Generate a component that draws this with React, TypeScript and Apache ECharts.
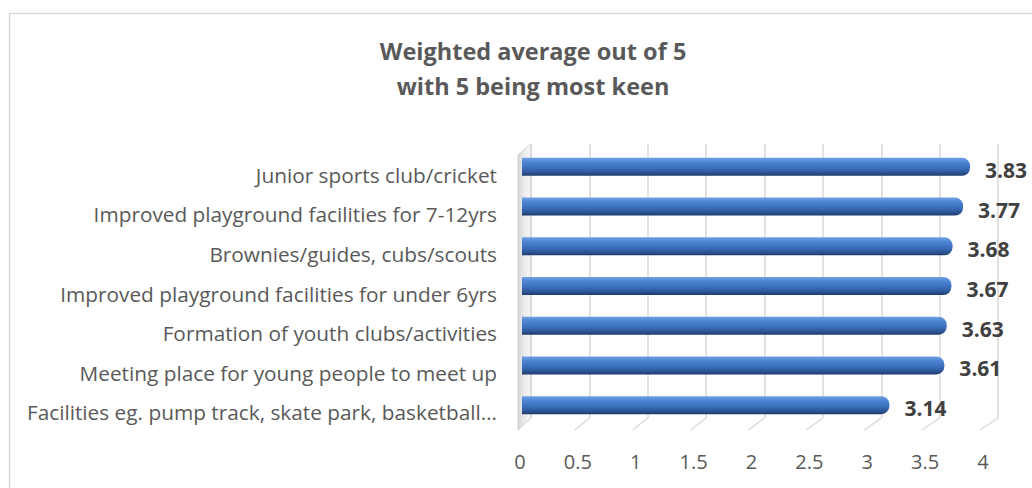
import React, { useEffect, useRef } from "react";
import * as echarts from "echarts";

const TITLE_LINES = ["Weighted average out of 5", "with 5 being most keen"];
const CATEGORIES = [
  "Junior sports club/cricket",
  "Improved playground facilities for 7-12yrs",
  "Brownies/guides, cubs/scouts",
  "Improved playground facilities for under 6yrs",
  "Formation of youth clubs/activities",
  "Meeting place for young people to meet up",
  "Facilities eg. pump track, skate park, basketball…",
];
const VALUES = [3.83, 3.77, 3.68, 3.67, 3.63, 3.61, 3.14];
const X_MIN = 0;
const X_MAX = 4;
const X_STEP = 0.5;
const X_TICKS = [0, 0.5, 1, 1.5, 2, 2.5, 3, 3.5, 4];

const FONT = "Open Sans";
const GRAY = "#595959";

// layout
const BACK = { left: 531, top: 144, width: 467, height: 274 };
const FRONT = { left: 520, top: 155, width: 463, height: 277 };
const BARS = { left: 522, top: 147, width: 468, height: 278 };

export default function App() {
  const ref = useRef<HTMLDivElement>(null);
  useEffect(() => {
    const chart = echarts.init(ref.current!, null, { renderer: "svg" });
    const barColor = new echarts.graphic.LinearGradient(0, 0, 0, 1, [
      { offset: 0, color: "#6fa0e4" },
      { offset: 0.25, color: "#4c84d4" },
      { offset: 0.6, color: "#3a6cb8" },
      { offset: 0.85, color: "#2a5290" },
      { offset: 1, color: "#1d3a66" },
    ]);
    const option: any = {
      animation: false,
      backgroundColor: "#ffffff",
      title: {
        text: TITLE_LINES.join("\n"),
        left: 528,
        top: 28,
        textAlign: "center",
        textStyle: {
          fontFamily: FONT,
          fontWeight: "bold",
          fontSize: 23.5,
          color: GRAY,
          lineHeight: 35,
        },
      },
      grid: [
        { ...BACK, containLabel: false },
        { ...FRONT, containLabel: false },
        { ...BARS, containLabel: false },
      ],
      xAxis: [
        {
          gridIndex: 0,
          type: "value",
          min: X_MIN,
          max: X_MAX,
          interval: X_STEP,
          axisLine: { show: false },
          axisTick: { show: false },
          axisLabel: { show: false },
          splitLine: { show: true, lineStyle: { color: "#d9d9d9", width: 1.5 } },
        },
        {
          gridIndex: 1,
          type: "value",
          min: X_MIN,
          max: X_MAX,
          interval: X_STEP,
          axisLine: { show: false },
          axisTick: { show: false },
          splitLine: { show: false },
          axisLabel: {
            show: true,
            margin: 19,
            fontFamily: FONT,
            fontSize: 20,
            color: GRAY,
            formatter: (v: number) => String(v),
          },
        },
        {
          gridIndex: 2,
          type: "value",
          min: X_MIN,
          max: X_MAX,
          interval: X_STEP,
          show: false,
          splitLine: { show: false },
        },
      ],
      yAxis: [
        { gridIndex: 0, type: "category", data: CATEGORIES, inverse: true, show: false },
        {
          gridIndex: 1,
          type: "category",
          data: CATEGORIES,
          inverse: true,
          axisLine: { show: false },
          axisTick: { show: false },
          splitLine: { show: false },
          axisLabel: {
            margin: 23,
            fontFamily: FONT,
            fontSize: 20.8,
            color: GRAY,
          },
        },
        { gridIndex: 2, type: "category", data: CATEGORIES, inverse: true, show: false },
      ],
      series: [
        {
          type: "bar",
          xAxisIndex: 2,
          yAxisIndex: 2,
          data: VALUES,
          barWidth: 18,
          itemStyle: {
            color: barColor,
            borderRadius: [0, 8, 8, 0],
          },
          label: {
            show: true,
            position: "right",
            distance: 15,
            offset: [0, 3],
            fontFamily: FONT,
            fontWeight: "bold",
            fontSize: 21,
            color: "#404040",
            formatter: (p: any) => Number(p.value).toFixed(2),
          },
        },
      ],
    };
    chart.setOption(option);

    // perspective decorations derived from the axes
    const backBottom = BACK.top + BACK.height;
    const frontBottom = backBottom + 12;
    const graphics: any[] = [];
    X_TICKS.forEach((v) => {
      const xb = chart.convertToPixel({ xAxisIndex: 0 } as any, v) as number;
      const xf = (chart.convertToPixel({ xAxisIndex: 1 } as any, v) as number) - 3;
      if (v === X_MIN) return;
      graphics.push({
        type: "line",
        shape: { x1: xf, y1: frontBottom, x2: xb, y2: backBottom },
        style: { stroke: "#d9d9d9", lineWidth: 1.5 },
        silent: true,
      });
    });
    const xb0 = chart.convertToPixel({ xAxisIndex: 0 } as any, X_MIN) as number;
    const xf0 = (chart.convertToPixel({ xAxisIndex: 1 } as any, X_MIN) as number) - 2;
    graphics.push({
      type: "polygon",
      z: -1,
      shape: {
        points: [
          [xf0, BACK.top + 11],
          [xb0, BACK.top],
          [xb0, backBottom],
          [xf0, frontBottom],
        ],
      },
      style: {
        fill: new echarts.graphic.LinearGradient(0, 0, 1, 0, [
          { offset: 0, color: "#d6d6d6" },
          { offset: 0.5, color: "#ececec" },
          { offset: 1, color: "#f7f7f7" },
        ]),
        stroke: "#d0d0d0",
        lineWidth: 1,
      },
      silent: true,
    });
    graphics.push({
      type: "rect",
      z: -2,
      shape: { x: 9.5, y: 13.5, width: 1040, height: 500 },
      style: { fill: "none", stroke: "#d9d9d9", lineWidth: 1.5 },
      silent: true,
    });
    chart.setOption({ graphic: graphics });

    return () => chart.dispose();
  }, []);
  return (
    <div
      ref={ref}
      style={{ position: "fixed", left: 0, top: 0, width: 1032, height: 488 }}
    />
  );
}
